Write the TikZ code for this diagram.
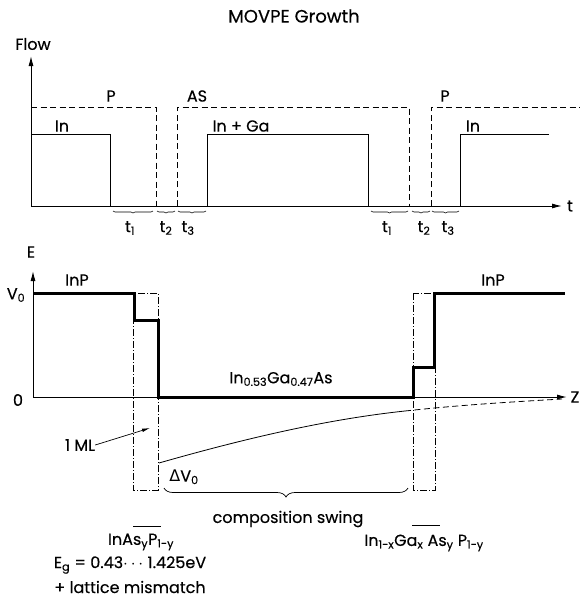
\documentclass[tikz,border=0pt]{standalone}
\usepackage{fontspec}
\setmainfont{Poppins}[FakeBold=0.35]
\newfontfamily\symfont{DejaVu Sans}
\usetikzlibrary{arrows.meta,decorations.pathreplacing}

\begin{document}
\begin{tikzpicture}[x=1pt,y=-1pt,
  lbl/.style={font=\fontsize{16}{18}\selectfont, inner sep=0pt},
  gas/.style={line width=0.8pt, dash pattern=on 6pt off 3.5pt},
  pulse/.style={line width=1pt},
  band/.style={line width=3pt, line join=miter},
  mlbox/.style={line width=0.7pt, dash pattern=on 7pt off 2pt on 1pt off 2pt},
  axis/.style={line width=1pt, -{Latex[length=10pt,width=5pt]}},
  tbrace/.style={decorate, decoration={brace, mirror, amplitude=2pt}, line width=0.6pt}]
\useasboundingbox (0,0) rectangle (582,600);

\node[lbl, font=\fontsize{18}{20}\selectfont] (title) at (294,16) {MOVPE Growth};

% flow vs. time
\coordinate (f0) at (31,206);
\coordinate (ftop) at (31,56);
\coordinate (tend) at (562,206);
\draw[axis] (f0) -- (ftop);
\draw[axis] (f0) -- (tend);
\node[lbl] (flow) at (33,44) {Flow};
\node[lbl] (t) at (570,206) {t};

\draw[gas] (31,107) -- (156,107) -- (156,206);
\draw[gas] (177,206) -- (177,107) -- (409,107) -- (409,206);
\draw[gas] (431,206) -- (431,107) -- (580,107);

\draw[pulse] (31,134) -- (110,134) -- (110,206);
\draw[pulse] (207,206) -- (207,134) -- (368,134) -- (368,206);
\draw[pulse] (460,206) -- (460,134) -- (549,134);

\node[lbl] (p1) at (111,96) {P};
\node[lbl] (as) at (197,96) {AS};
\node[lbl] (p2) at (445,96) {P};
\node[lbl] (in1) at (62,126) {In};
\node[lbl] (inga) at (241,126) {In + Ga};
\node[lbl] (in2) at (473,126) {In};

\foreach \a/\b/\c/\n in {113/153/130/1,157/175/166/2,178/206/188/3,
                         371/408/387/1,412/430/424/2,432/459/448/3}
{
\draw[tbrace] (\a,211) -- (\b,211);
\node[lbl] at (\c,228) {t\textsubscript{\n}};
}

% band edge vs. z
\coordinate (e0) at (33,397);
\coordinate (etop) at (33,271);
\coordinate (zend) at (567,397);
\draw[axis] (e0) -- (etop);
\draw[axis] (e0) -- (zend);
\node[lbl] (E) at (31,252) {E};
\node[lbl] (Z) at (575,397) {Z};
\node[lbl] (V0) at (16,295) {V\textsubscript{0}};
\node[lbl] (zero) at (18,400) {0};

\draw[mlbox] (133,293) rectangle (158,490);
\draw[mlbox] (413,293) rectangle (435,490);

\draw[band] (33,293) -- (134,293) -- (134,320) -- (158,320) -- (158,397)
  -- (413,397) -- (413,367) -- (434,367) -- (434,293) -- (565,293);

\draw[line width=0.8pt] (159,463) .. controls (250,437) and (330,419) .. (405,411);
\draw[gas] (405,411) .. controls (460,405) and (510,402) .. (562,399);

\node[lbl] (inp1) at (77,280) {InP};
\node[lbl] (inp2) at (493,280) {InP};
\node[lbl] (ingaas) at (281,379) {In\textsubscript{0.53}Ga\textsubscript{0.47}As};

\node[lbl] (ml) at (80,445) {1 ML};
\coordinate (mltip) at (150,428);
\draw[line width=0.7pt, -{Latex[length=8pt,width=3.5pt]}] (ml.east) -- (mltip);
\node[lbl] (dv) at (184,477) {{\symfont Δ}V\textsubscript{0}};

\draw[decorate, decoration={brace, mirror, amplitude=9pt}, line width=0.7pt]
  (164,488) -- (408,488);
\node[lbl] (swing) at (288,519) {composition swing};

\draw[line width=0.7pt] (133,526) -- (161,526);
\draw[line width=0.7pt] (412,525) -- (440,525);

\node[lbl] (inasp) at (141,542) {InAs\textsubscript{y}P\textsubscript{1-y}};
\node[lbl] (eg) at (130,565) {E\textsubscript{g} = 0.43$\cdots$ 1.425eV};
\node[lbl] (lat) at (130,587) {+ lattice mismatch};
\node[lbl] (quat) at (424,543) {In\textsubscript{1-x}Ga\textsubscript{x} As\textsubscript{y} P\textsubscript{1-y}};

\end{tikzpicture}
\end{document}
